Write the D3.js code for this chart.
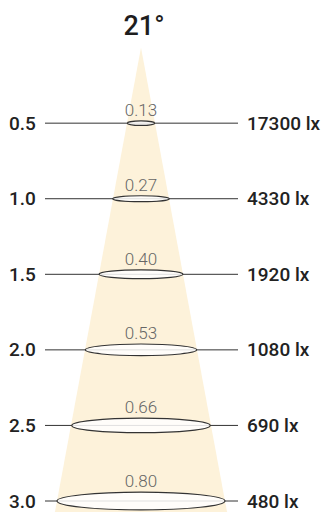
<!DOCTYPE html>
<html>
<head>
<meta charset="utf-8">
<script src="https://cdn.jsdelivr.net/npm/d3@7"></script>
<style>
  body { margin: 0; background: #fff; }
  text { font-family: Roboto, "Noto Sans", sans-serif; }
</style>
</head>
<body>
<div id="chart"></div>
<script>
const beamAngle = "21°";
const distances = [0.5, 1.0, 1.5, 2.0, 2.5, 3.0];
const diameters = [0.13, 0.27, 0.40, 0.53, 0.66, 0.80];
const illuminance = ["17300 lx", "4330 lx", "1920 lx", "1080 lx", "690 lx", "480 lx"];

const width = 321;
const height = 512;
const cx = 141;

const svg = d3.select("#chart")
    .append("svg")
    .attr("width", width)
    .attr("height", height);

const y = d3.scaleLinear().domain([0, 3]).range([47.6, 501]);
// horizontal scale in metres around the beam axis
const x = d3.scaleLinear().domain([-0.4, 0.4]).range([cx - 84, cx + 84]);

const rx = r => x(r.dia / 2) - x(0);
const ry = r => Math.max(2.2, rx(r) * 0.105);

// beam cone, extended to the bottom edge
const ratio = diameters[diameters.length - 1] / distances[distances.length - 1];
const dEnd = y.invert(height);
svg.append("path")
    .attr("d", d3.line()([
        [x(0), y(0)],
        [x(ratio * dEnd / 2), y(dEnd)],
        [x(-ratio * dEnd / 2), y(dEnd)]
    ]))
    .attr("fill", "#fdf2da");

svg.append("text")
    .attr("x", 144)
    .attr("y", 35)
    .attr("text-anchor", "middle")
    .attr("font-size", 27)
    .attr("font-weight", 500)
    .attr("fill", "#1e1e1e")
    .text(beamAngle);

const rows = svg.selectAll("g.row")
    .data(distances.map((d, i) => ({ d, dia: diameters[i], lx: illuminance[i] })))
    .join("g")
    .attr("class", "row");

rows.append("line")
    .attr("x1", 45)
    .attr("x2", 238)
    .attr("y1", r => y(r.d))
    .attr("y2", r => y(r.d))
    .attr("stroke", "#333")
    .attr("stroke-width", 1);

rows.append("ellipse")
    .attr("cx", x(0))
    .attr("cy", r => y(r.d))
    .attr("rx", rx)
    .attr("ry", ry)
    .attr("fill", "#fff")
    .attr("fill-opacity", 0.85)
    .attr("stroke", "#333")
    .attr("stroke-width", 1.2);

rows.append("text")
    .attr("x", x(0))
    .attr("y", r => y(r.d) - ry(r) - 5)
    .attr("text-anchor", "middle")
    .attr("font-size", 17)
    .attr("font-weight", 300)
    .attr("fill", "#666")
    .text(r => r.dia.toFixed(2));

rows.append("text")
    .attr("x", 9)
    .attr("y", r => y(r.d) + 6.5)
    .attr("font-size", 19)
    .attr("font-weight", 500)
    .attr("fill", "#222")
    .text(r => r.d.toFixed(1));

rows.append("text")
    .attr("x", 247)
    .attr("y", r => y(r.d) + 6.5)
    .attr("font-size", 19)
    .attr("font-weight", 500)
    .attr("fill", "#222")
    .text(r => r.lx);
</script>
</body>
</html>
